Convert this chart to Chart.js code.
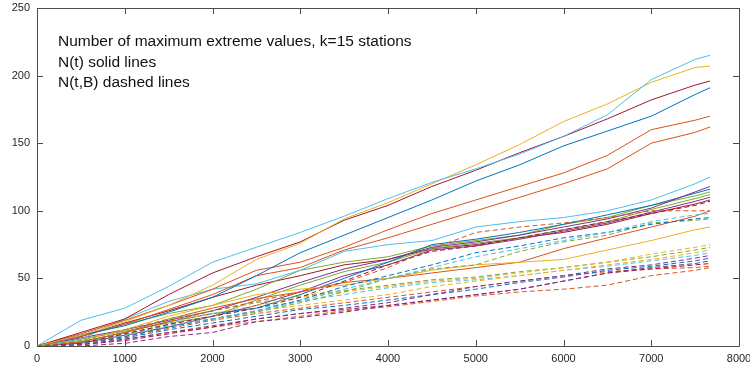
<!DOCTYPE html>
<html>
<head>
<meta charset="utf-8">
<script src="https://cdn.jsdelivr.net/npm/chart.js@4"></script>
<style>
  body { margin: 0; background: #fff; }
  canvas { display: block; }
</style>
</head>
<body>
<canvas id="extremes" width="750" height="370"></canvas>
<script>
// time index where each count is sampled
const tSamples = [0, 500, 1000, 1500, 2000, 2500, 3000, 3500, 4000, 4500, 5000, 5500, 6000, 6500, 7000, 7500, 7670]

// N(t) - cumulative number of record highs, one array per station
const nLightBlue1 = [0, 19, 28, 44, 62, 73, 84, 96, 109, 121, 131, 142, 155, 171, 197, 212, 215]
const nYellow1    = [0, 8, 18, 30, 45, 64, 76, 94, 106, 120, 134, 149, 166, 179, 195, 206, 207]
const nDarkRed1   = [0, 10, 20, 38, 54, 66, 77, 93, 104, 118, 130, 143, 155, 168, 182, 193, 196]
const nBlue1      = [0, 8, 15, 25, 36, 52, 69, 82, 95, 108, 122, 134, 148, 159, 170, 186, 191]
const nOrange1    = [0, 9, 19, 30, 42, 56, 62, 73, 86, 98, 108, 118, 128, 141, 160, 167, 170]
const nOrange2    = [0, 7, 16, 27, 38, 52, 58, 71, 80, 90, 100, 110, 120, 131, 150, 158, 162]
const nLightBlue2 = [0, 5, 20, 33, 42, 46, 56, 70, 75, 78, 88, 92, 95, 100, 108, 120, 125]
const nYellow2    = [0, 4, 12, 22, 30, 38, 42, 45, 50, 56, 60, 62, 64, 71, 78, 86, 88]
const nOrange3    = [0, 3, 10, 20, 28, 35, 40, 47, 50, 54, 58, 62, 72, 80, 88, 96, 100]
const nPurple1    = [0, 6, 12, 19, 26, 36, 47, 57, 64, 73, 77, 82, 88, 94, 102, 114, 118]
const nBlue2      = [0, 3, 10, 18, 24, 28, 38, 50, 62, 75, 79, 84, 90, 97, 104, 113, 116]
const nGreen1     = [0, 8, 16, 24, 30, 42, 56, 62, 66, 74, 78, 82, 90, 95, 104, 111, 114]
const nGreen2     = [0, 5, 11, 17, 22, 34, 45, 55, 62, 72, 76, 80, 86, 92, 101, 109, 112]
const nPurple2    = [0, 2, 8, 14, 22, 30, 40, 52, 60, 71, 74, 79, 85, 91, 99, 107, 110]
const nDarkRed2   = [0, 7, 17, 26, 36, 45, 52, 60, 64, 72, 75, 80, 84, 90, 98, 105, 108]

// N(t,B) - same stations, counts with the B condition
const bOrange1    = [0, 3, 10, 18, 26, 33, 40, 47, 58, 72, 84, 88, 91, 95, 100, 100, 100]
const bDarkRed1   = [0, 2, 9, 16, 22, 28, 36, 48, 60, 70, 74, 80, 86, 92, 98, 104, 107]
const bLightBlue1 = [0, 2, 8, 15, 20, 26, 33, 42, 50, 58, 66, 72, 78, 84, 92, 97, 98]
const bBlue1      = [0, 2, 7, 14, 20, 26, 34, 44, 52, 60, 69, 74, 80, 84, 90, 94, 95]
const bGreen1     = [0, 3, 9, 15, 20, 25, 32, 40, 50, 57, 60, 70, 77, 82, 91, 93, 94]
const bYellow1    = [0, 3, 10, 18, 24, 30, 36, 40, 44, 48, 50, 54, 58, 62, 68, 73, 75]
const bGreen2     = [0, 4, 12, 20, 26, 32, 37, 41, 45, 49, 51, 55, 58, 62, 66, 71, 73]
const bYellow2    = [0, 2, 8, 14, 20, 26, 30, 34, 38, 44, 48, 52, 56, 60, 64, 69, 71]
const bLightBlue2 = [0, 3, 9, 16, 22, 28, 33, 38, 43, 47, 49, 52, 56, 59, 63, 67, 69]
const bPurple1    = [0, 1, 5, 10, 15, 20, 24, 28, 32, 38, 44, 48, 52, 57, 60, 65, 67]
const bBlue2      = [0, 2, 6, 12, 17, 22, 27, 30, 34, 38, 42, 47, 51, 56, 59, 63, 65]
const bPurple2    = [0, 0, 2, 7, 10, 18, 21, 25, 30, 34, 38, 42, 48, 54, 58, 61, 63]
const bDarkRed2   = [0, 1, 4, 9, 14, 20, 24, 27, 30, 34, 38, 42, 48, 54, 57, 60, 61]
const bOrange2    = [0, 2, 7, 13, 19, 24, 28, 32, 36, 40, 44, 48, 52, 55, 57, 58, 59]
const bOrange3    = [0, 1, 5, 10, 14, 18, 22, 26, 29, 33, 37, 40, 42, 45, 52, 56, 58]

const xTicks = [0, 1000, 2000, 3000, 4000, 5000, 6000, 7000, 8000]
const yTicks = [0, 50, 100, 150, 200, 250]
const noteLines = ["Number of maximum extreme values, k=15 stations", "N(t) solid lines", "N(t,B) dashed lines"]

// matlab default line colours
const blue = "#0072BD", orange = "#D95319", yellow = "#EDB120", purple = "#7E2F8E"
const green = "#77AC30", lightBlue = "#4DBEEE", darkRed = "#A2142F"

let solid = [
  [nLightBlue1, lightBlue], [nYellow1, yellow], [nDarkRed1, darkRed], [nBlue1, blue],
  [nOrange1, orange], [nOrange2, orange], [nLightBlue2, lightBlue], [nYellow2, yellow],
  [nOrange3, orange], [nPurple1, purple], [nBlue2, blue], [nGreen1, green],
  [nGreen2, green], [nPurple2, purple], [nDarkRed2, darkRed]
]
let dashed = [
  [bOrange1, orange], [bDarkRed1, darkRed], [bLightBlue1, lightBlue], [bBlue1, blue],
  [bGreen1, green], [bYellow1, yellow], [bGreen2, green], [bYellow2, yellow],
  [bLightBlue2, lightBlue], [bPurple1, purple], [bBlue2, blue], [bPurple2, purple],
  [bDarkRed2, darkRed], [bOrange2, orange], [bOrange3, orange]
]

function makeSet(values, colour, dash){
  return {
    data: tSamples.map((t, i) => ({x: t, y: values[i]})),
    borderColor: colour,
    borderWidth: 1,
    borderDash: dash,
    pointRadius: 0,
    tension: 0,
    fill: false
  }
}

let datasets = []
dashed.forEach(s => datasets.push(makeSet(s[0], s[1], [5, 3])))
solid.forEach(s => datasets.push(makeSet(s[0], s[1], [])))

// box round the axes with inward tick marks, plus the note text
const axesBox = {
  id: "axesBox",
  beforeDatasetsDraw(chart){
    let ctx = chart.ctx
    let a = chart.chartArea
    let xs = chart.scales.x, ys = chart.scales.y
    ctx.save()
    ctx.strokeStyle = "#4d4d4d"
    ctx.lineWidth = 1
    ctx.beginPath()
    ctx.rect(Math.round(a.left) + 0.5, Math.round(a.top) + 0.5, Math.round(a.right - a.left), Math.round(a.bottom - a.top))
    xTicks.forEach(v => {
      let px = Math.round(xs.getPixelForValue(v)) + 0.5
      ctx.moveTo(px, a.bottom); ctx.lineTo(px, a.bottom - 6)
      ctx.moveTo(px, a.top); ctx.lineTo(px, a.top + 6)
    })
    yTicks.forEach(v => {
      let py = Math.round(ys.getPixelForValue(v)) + 0.5
      ctx.moveTo(a.left, py); ctx.lineTo(a.left + 6, py)
      ctx.moveTo(a.right, py); ctx.lineTo(a.right - 6, py)
    })
    ctx.stroke()
    ctx.restore()
  },
  afterDraw(chart){
    let ctx = chart.ctx
    ctx.save()
    ctx.fillStyle = "#111"
    ctx.font = '15.5px "Liberation Sans", Arial, sans-serif'
    ctx.textBaseline = "alphabetic"
    noteLines.forEach((line, i) => ctx.fillText(line, 58, 46 + i * 20.5))
    ctx.restore()
  }
}

let tickFont = {family: '"Liberation Sans", Arial, sans-serif', size: 11}

new Chart(document.getElementById("extremes"), {
  type: "line",
  data: {datasets: datasets},
  options: {
    responsive: false,
    devicePixelRatio: 1,
    animation: false,
    layout: {padding: {top: 8, right: 11, left: 0, bottom: 0}},
    plugins: {legend: {display: false}, tooltip: {enabled: false}},
    scales: {
      x: {
        type: "linear",
        min: 0,
        max: 8000,
        afterFit: s => { s.height = 24; s.paddingLeft = 0; s.paddingRight = 0 },
        afterBuildTicks: s => { s.ticks = xTicks.map(v => ({value: v})) },
        grid: {display: false, drawTicks: false},
        border: {display: false},
        ticks: {color: "#262626", font: tickFont, padding: 6, maxRotation: 0, callback: v => String(v)}
      },
      y: {
        min: 0,
        max: 250,
        afterFit: s => { s.width = 37; s.paddingTop = 0; s.paddingBottom = 0 },
        afterBuildTicks: s => { s.ticks = yTicks.map(v => ({value: v})) },
        grid: {display: false, drawTicks: false},
        border: {display: false},
        ticks: {color: "#262626", font: tickFont, padding: 7, callback: v => String(v)}
      }
    }
  },
  plugins: [axesBox]
})
</script>
</body>
</html>
